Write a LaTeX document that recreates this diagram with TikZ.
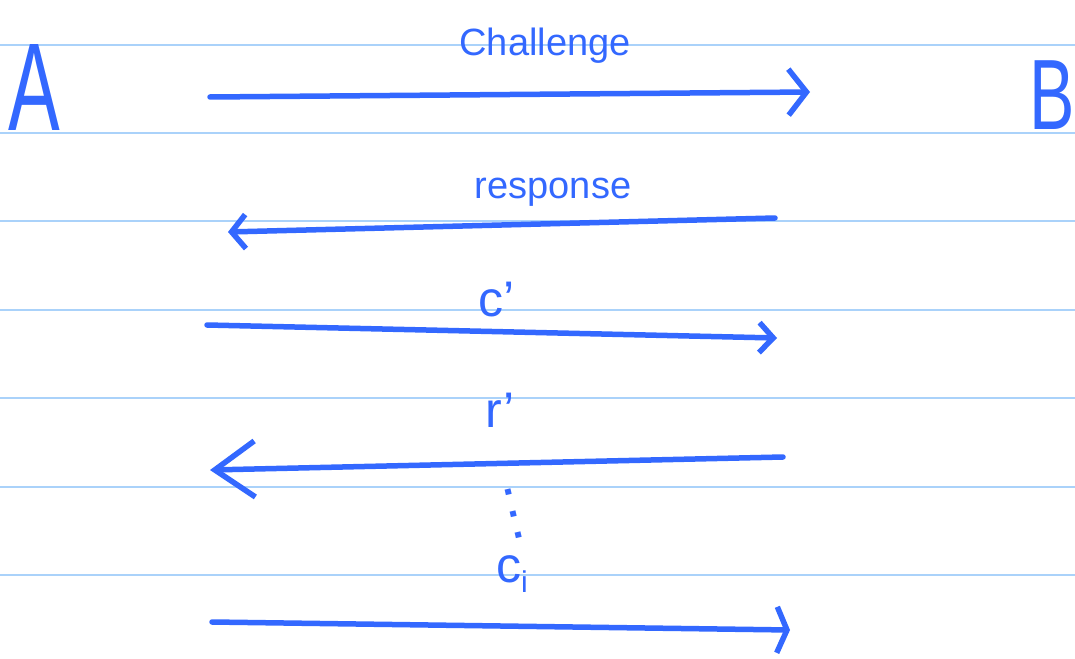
\documentclass[tikz,border=0pt]{standalone}
\usepackage{fontspec}
\setmainfont{Liberation Sans}
\usetikzlibrary{arrows.meta}
\definecolor{ink}{RGB}{51,104,255}
\definecolor{rule}{RGB}{170,210,250}
\tikzset{
  ruling/.style={rule, line width=1.8pt},
  msg/.style={ink, line width=5.5pt, line cap=round},
  lbl/.style={ink, font=\fontsize{38}{44}\selectfont, inner sep=0pt},
  sym/.style={ink, font=\fontsize{50}{56}\selectfont, inner sep=0pt},
  party/.style={ink, inner sep=0pt, anchor=base}
}
\begin{document}
\begin{tikzpicture}[x=1pt,y=-1pt]
\useasboundingbox (0,0) rectangle (1075,658);
\fill[white] (0,0) rectangle (1075,658);
% ruled paper
\foreach \yy in {45,133,221,310,398,487,575}
  \draw[ruling] (0,\yy) -- (1075,\yy);
% parties
\node[party, font=\fontsize{125}{130}\selectfont] (A) at (34,131) {\scalebox{0.62}[1]{A}};
\node[party, font=\fontsize{100}{110}\selectfont] (B) at (1052,129) {\scalebox{0.68}[1]{B}};
% endpoints
\coordinate (c1s) at (210,97);  \coordinate (c1e) at (810,92);
\coordinate (r1s) at (775,218); \coordinate (r1e) at (228,232);
\coordinate (c2s) at (207,325); \coordinate (c2e) at (777,338);
\coordinate (r2s) at (783,457); \coordinate (r2e) at (210,470);
\coordinate (c3s) at (212,622); \coordinate (c3e) at (790,630);
% messages
\draw[msg, -{Straight Barb[length=18pt,width=46pt,line width=5.5pt]}] (c1s) -- (c1e);
\draw[msg, -{Straight Barb[length=14pt,width=34pt,line width=5.5pt]}] (r1s) -- (r1e);
\draw[msg, -{Straight Barb[length=14pt,width=30pt,line width=5.5pt]}] (c2s) -- (c2e);
\draw[msg, -{Straight Barb[length=40pt,width=56pt,line width=5.5pt]}] (r2s) -- (r2e);
\draw[msg, -{Straight Barb[length=10pt,width=46pt,line width=5.5pt]}] (c3s) -- (c3e);
% labels
\node[lbl] (l1) at (545,46) {Challenge};
\node[lbl] (l2) at (553,192) {response};
\node[sym] (l3) at (497,300) {c’};
\node[sym] (l4) at (500,410) {r’};
\node[ink, inner sep=0pt, rotate=-77, font=\fontsize{40}{44}\selectfont\bfseries] (l5) at (514,514) {.\hspace{11pt}.\hspace{11pt}.};
\node[sym] (l6) at (512,574) {c\raisebox{-10pt}{\fontsize{30}{30}\selectfont i}};
\end{tikzpicture}
\end{document}
